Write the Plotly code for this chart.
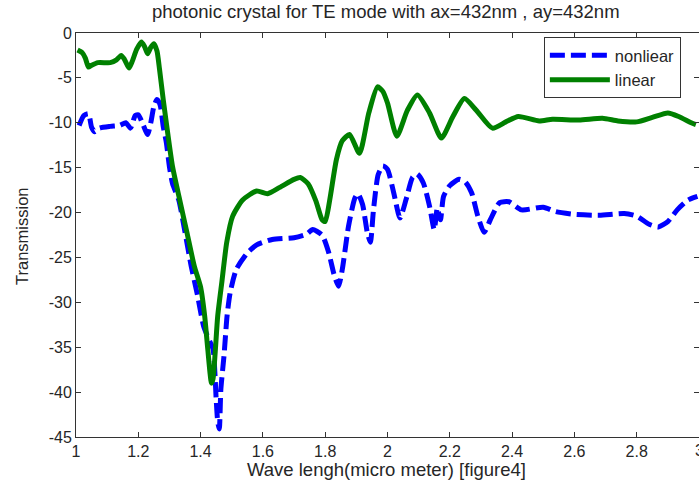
import plotly.graph_objects as go

# ---- data ----
lin_x = [1.005, 1.02, 1.03, 1.04, 1.05, 1.07, 1.11, 1.13, 1.145, 1.155, 1.17, 1.18, 1.195, 1.21,
         1.22, 1.23, 1.24, 1.25, 1.26, 1.268, 1.28, 1.295, 1.31, 1.333, 1.356, 1.38, 1.40, 1.413,
         1.423, 1.435, 1.44, 1.447, 1.455, 1.468, 1.484, 1.503, 1.535, 1.58, 1.615, 1.654, 1.70,
         1.72, 1.745, 1.77, 1.79, 1.80, 1.815, 1.836, 1.855, 1.878, 1.91, 1.94, 1.968, 1.985, 2.0,
         2.03, 2.064, 2.096, 2.135, 2.173, 2.21, 2.247, 2.285, 2.337, 2.38, 2.42, 2.487, 2.53,
         2.615, 2.69, 2.74, 2.80, 2.85, 2.90, 2.935, 2.975, 2.99]
lin_y = [-1.9, -2.2, -2.8, -3.8, -3.6, -3.3, -3.3, -3.0, -2.5, -2.9, -3.9, -3.2, -1.8, -1.0,
         -1.5, -2.3, -1.6, -1.2, -2.0, -4.0, -7.4, -11.3, -14.9, -18.6, -22.2, -26.0, -28.3, -31.5,
         -35.2, -39.0, -38.5, -35.5, -31.5, -27.8, -23.3, -20.4, -18.6, -17.6, -17.9, -17.2, -16.3,
         -16.1, -16.8, -18.7, -20.8, -21.0, -18.5, -14.1, -12.0, -11.3, -13.4, -8.9, -6.0, -6.5, -7.8,
         -11.5, -8.6, -6.9, -8.9, -11.7, -9.3, -7.3, -8.6, -10.6, -9.9, -9.3, -9.8, -9.6,
         -9.7, -9.5, -9.8, -9.9, -9.4, -8.9, -9.3, -10.0, -10.2]

nl_x = [1.01, 1.025, 1.04, 1.05, 1.06, 1.075, 1.11, 1.14, 1.16, 1.175, 1.19, 1.20, 1.215, 1.23,
        1.24, 1.25, 1.26, 1.27, 1.28, 1.29, 1.30, 1.31, 1.33, 1.35, 1.37, 1.39, 1.41, 1.43, 1.44,
        1.45, 1.455, 1.46, 1.465, 1.475, 1.485, 1.495, 1.515, 1.55, 1.58, 1.63, 1.70, 1.74, 1.76,
        1.79, 1.81, 1.83, 1.843, 1.855, 1.875, 1.895, 1.905, 1.92, 1.935, 1.945, 1.955, 1.97,
        1.985, 2.0, 2.02, 2.04, 2.06, 2.08, 2.095, 2.115, 2.135, 2.15, 2.16, 2.17, 2.18, 2.20,
        2.23, 2.25, 2.27, 2.29, 2.31, 2.33, 2.36, 2.39, 2.43, 2.50, 2.54, 2.60, 2.68, 2.76, 2.80,
        2.84, 2.87, 2.90, 2.93, 2.965, 2.995]
nl_y = [-10.3, -9.2, -9.0, -10.5, -11.0, -10.6, -10.4, -10.3, -10.0, -10.6, -9.2, -9.1, -10.2, -11.3,
        -10.0, -8.2, -7.4, -8.0, -10.4, -12.2, -14.9, -16.8, -18.6, -22.2, -26.0, -29.2, -32.7, -34.4, -35.2,
        -40.8, -43.3, -44.1, -39.7, -36.0, -31.5, -28.9, -26.3, -24.5, -23.6, -23.0, -22.8, -22.4, -21.9,
        -22.5, -24.3, -27.1, -28.2, -26.3, -21.5, -18.4, -17.9, -19.1, -22.2, -23.3, -19.7, -15.8,
        -14.8, -15.2, -17.8, -20.6, -18.5, -16.1, -15.7, -16.7, -19.3, -21.9, -19.5, -20.8, -18.2, -17.0,
        -16.3, -16.6, -17.8, -20.4, -22.2, -20.8, -18.9, -18.8, -19.7, -19.4, -19.9, -20.2, -20.3, -20.1, -20.4,
        -21.3, -21.6, -21.0, -19.7, -18.6, -18.2]

x_ticks = [1, 1.2, 1.4, 1.6, 1.8, 2, 2.2, 2.4, 2.6, 2.8, 3]
x_tick_labels = ["1", "1.2", "1.4", "1.6", "1.8", "2", "2.2", "2.4", "2.6", "2.8", "3"]
y_ticks = [0, -5, -10, -15, -20, -25, -30, -35, -40, -45]
y_tick_labels = ["0", "-5", "-10", "-15", "-20", "-25", "-30", "-35", "-40", "-45"]

title_text = "photonic crystal for TE mode with ax=432nm , ay=432nm"
x_title = "Wave lengh(micro meter) [figure4]"
y_title = "Transmission"

FONT = "Liberation Sans, Arial, sans-serif"
TXT = "#262626"

fig = go.Figure()
fig.add_trace(go.Scatter(x=nl_x, y=nl_y, mode="lines", name="nonliear",
                         line=dict(color="#0000ff", width=5, dash="15px,6px",
                                   shape="spline", smoothing=0.6)))
fig.add_trace(go.Scatter(x=lin_x, y=lin_y, mode="lines", name="linear",
                         line=dict(color="#008000", width=5, shape="spline", smoothing=0.6)))

axis_common = dict(showline=True, linecolor="#333333", linewidth=1, mirror="ticks",
                   ticks="inside", ticklen=5, tickcolor="#333333", showgrid=False,
                   zeroline=False, automargin=False,
                   tickfont=dict(family=FONT, size=16, color=TXT))

fig.update_layout(
    width=699, height=483,
    margin=dict(l=76, r=0, t=33, b=46, autoexpand=False),
    paper_bgcolor="white", plot_bgcolor="white",
    xaxis=dict(range=[1, 3], tickvals=x_ticks, ticktext=x_tick_labels, **axis_common),
    yaxis=dict(range=[-45, 0], tickvals=y_ticks, ticktext=y_tick_labels, **axis_common),
    legend=dict(x=0.751, y=0.99, xanchor="left", yanchor="top",
                bgcolor="white", bordercolor="#333333", borderwidth=1,
                font=dict(family=FONT, size=16.5, color=TXT), itemwidth=60,
                tracegroupgap=0),
    showlegend=True,
    annotations=[
        dict(text=title_text, xref="paper", yref="paper", x=0.497, y=1.0 + (33 - 12) / 404,
             xanchor="center", yanchor="middle", showarrow=False,
             font=dict(family=FONT, size=18.5, color=TXT)),
        dict(text=x_title, xref="paper", yref="paper", x=(386 - 76) / 623, y=-(469 - 437) / 404,
             xanchor="center", yanchor="middle", showarrow=False,
             font=dict(family=FONT, size=18.5, color=TXT)),
        dict(text=y_title, xref="paper", yref="paper", x=(22 - 76) / 623, y=(437 - 236) / 404,
             xanchor="center", yanchor="middle", showarrow=False, textangle=-90,
             font=dict(family=FONT, size=16.5, color=TXT)),
        # last x tick label, partially cut by the right edge as in the reference
        dict(text=x_tick_labels[-1], xref="x", yref="paper", x=x_ticks[-1], y=0,
             yshift=-13, xanchor="center", yanchor="middle", showarrow=False,
             font=dict(family=FONT, size=16, color=TXT)),
    ],
)

fig.write_html("out.html", config={"displayModeBar": False},
               post_script="document.body.style.margin='0';document.body.style.overflow='hidden';")
